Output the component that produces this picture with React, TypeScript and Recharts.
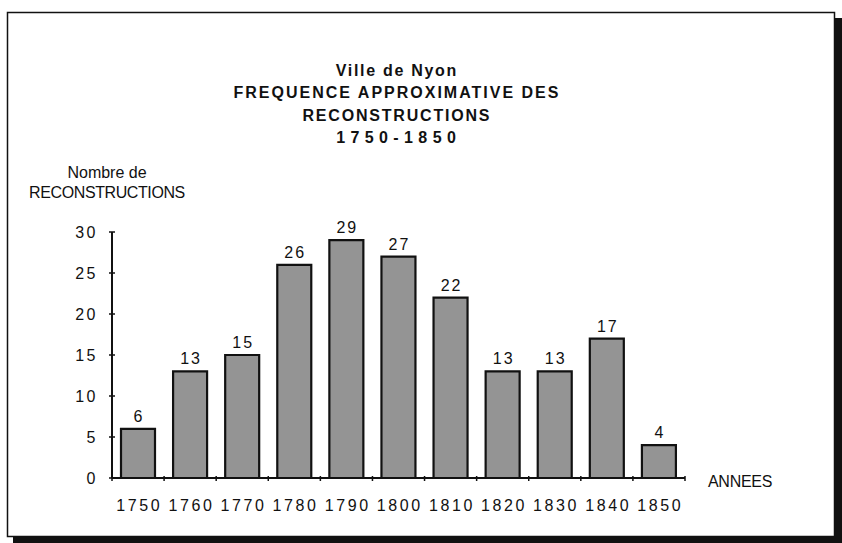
import React from 'react';
import { BarChart, Bar, XAxis, YAxis, LabelList } from 'recharts';

const years = ['1750', '1760', '1770', '1780', '1790', '1800', '1810', '1820', '1830', '1840', '1850'];
const counts = [6, 13, 15, 26, 29, 27, 22, 13, 13, 17, 4];
const yTicks = [0, 5, 10, 15, 20, 25, 30];
const titleLines = ['Ville de Nyon', 'FREQUENCE APPROXIMATIVE DES', 'RECONSTRUCTIONS', '1750-1850'];
const titleSpacing = [1.7, 2, 1.8, 5.4];
const yAxisTitle = ['Nombre de', 'RECONSTRUCTIONS'];
const xAxisTitle = 'ANNEES';

const data = years.map((year, i) => ({ year, count: counts[i] }));

const W = 842;
const H = 543;
const MARGIN = { top: 232, right: 157, bottom: 25, left: 0 };
const Y_AXIS_W = 112;
const X_AXIS_H = 40;
const BAND = (W - MARGIN.left - MARGIN.right - Y_AXIS_W) / years.length;
const FONT = '"Liberation Sans", Arial, Helvetica, sans-serif';
const INK = '#111';

const YTick = (props: any) => {
  const { x, y, payload } = props;
  return (
    <g>
      <line x1={x - 3} x2={x + 3} y1={y} y2={y} stroke={INK} strokeWidth={1.5} />
      <text x={x - 14} y={y} dy="0.36em" textAnchor="end" fontFamily={FONT} fontSize={16}
        letterSpacing={2.5} fill={INK}>{payload.value}</text>
    </g>
  );
};

const XTick = (props: any) => {
  const { x, y, payload, index } = props;
  return (
    <g>
      {index === 0 && (
        <line x1={x - BAND / 2} x2={x - BAND / 2} y1={y - 2} y2={y + 3} stroke={INK} strokeWidth={1.5} />
      )}
      <line x1={x + BAND / 2} x2={x + BAND / 2} y1={y - 2} y2={y + 3} stroke={INK} strokeWidth={1.5} />
      <text x={x + 1.3} y={y + 33} textAnchor="middle" fontFamily={FONT} fontSize={16}
        letterSpacing={2.6} fill={INK}>{payload.value}</text>
    </g>
  );
};

const ValueLabel = (props: any) => {
  const { x, y, width, value } = props;
  return (
    <text x={x + width / 2 + 1} y={y - 7} textAnchor="middle" fontFamily={FONT} fontSize={16}
      letterSpacing={2} fill={INK}>{value}</text>
  );
};

export default function App() {
  return (
    <div style={{ position: 'absolute', left: 0, top: 0, width: W, height: H, background: '#fff' }}>
      <BarChart width={W} height={H} data={data} margin={MARGIN}>
        <XAxis dataKey="year" height={X_AXIS_H} tickLine={false} tickSize={0} tickMargin={0}
          axisLine={{ stroke: INK, strokeWidth: 2 }} tick={<XTick />} interval={0} />
        <YAxis width={Y_AXIS_W} domain={[0, 30]} ticks={yTicks} tickLine={false} tickSize={0} tickMargin={0}
          axisLine={{ stroke: INK, strokeWidth: 2 }} tick={<YTick />} interval={0} />
        <Bar dataKey="count" barSize={34} fill="#949494" stroke={INK} strokeWidth={2.2} isAnimationActive={false}>
          <LabelList dataKey="count" content={<ValueLabel />} />
        </Bar>
      </BarChart>
      <svg width={W} height={H} style={{ position: 'absolute', left: 0, top: 0, pointerEvents: 'none' }}>
        <rect x={7.5} y={12.5} width={827} height={524} fill="none" stroke={INK} strokeWidth={1.5} />
        <rect x={835} y={18} width={7} height={525} fill="#111" />
        <rect x={13} y={537} width={829} height={6} fill="#111" />
        {titleLines.map((t, i) => (
          <text key={i} x={396 + titleSpacing[i] / 2} y={76 + i * 22.4} textAnchor="middle" fontFamily={FONT}
            fontWeight="bold" fontSize={16} letterSpacing={titleSpacing[i]} fill={INK}>{t}</text>
        ))}
        <text x={107} y={177.5} textAnchor="middle" fontFamily={FONT} fontSize={16} fill={INK}>{yAxisTitle[0]}</text>
        <text x={107} y={197.5} textAnchor="middle" fontFamily={FONT} fontSize={16} letterSpacing={-0.4}
          fill={INK}>{yAxisTitle[1]}</text>
        <text x={708} y={486.5} textAnchor="start" fontFamily={FONT} fontSize={16} letterSpacing={-0.3}
          fill={INK}>{xAxisTitle}</text>
      </svg>
    </div>
  );
}
